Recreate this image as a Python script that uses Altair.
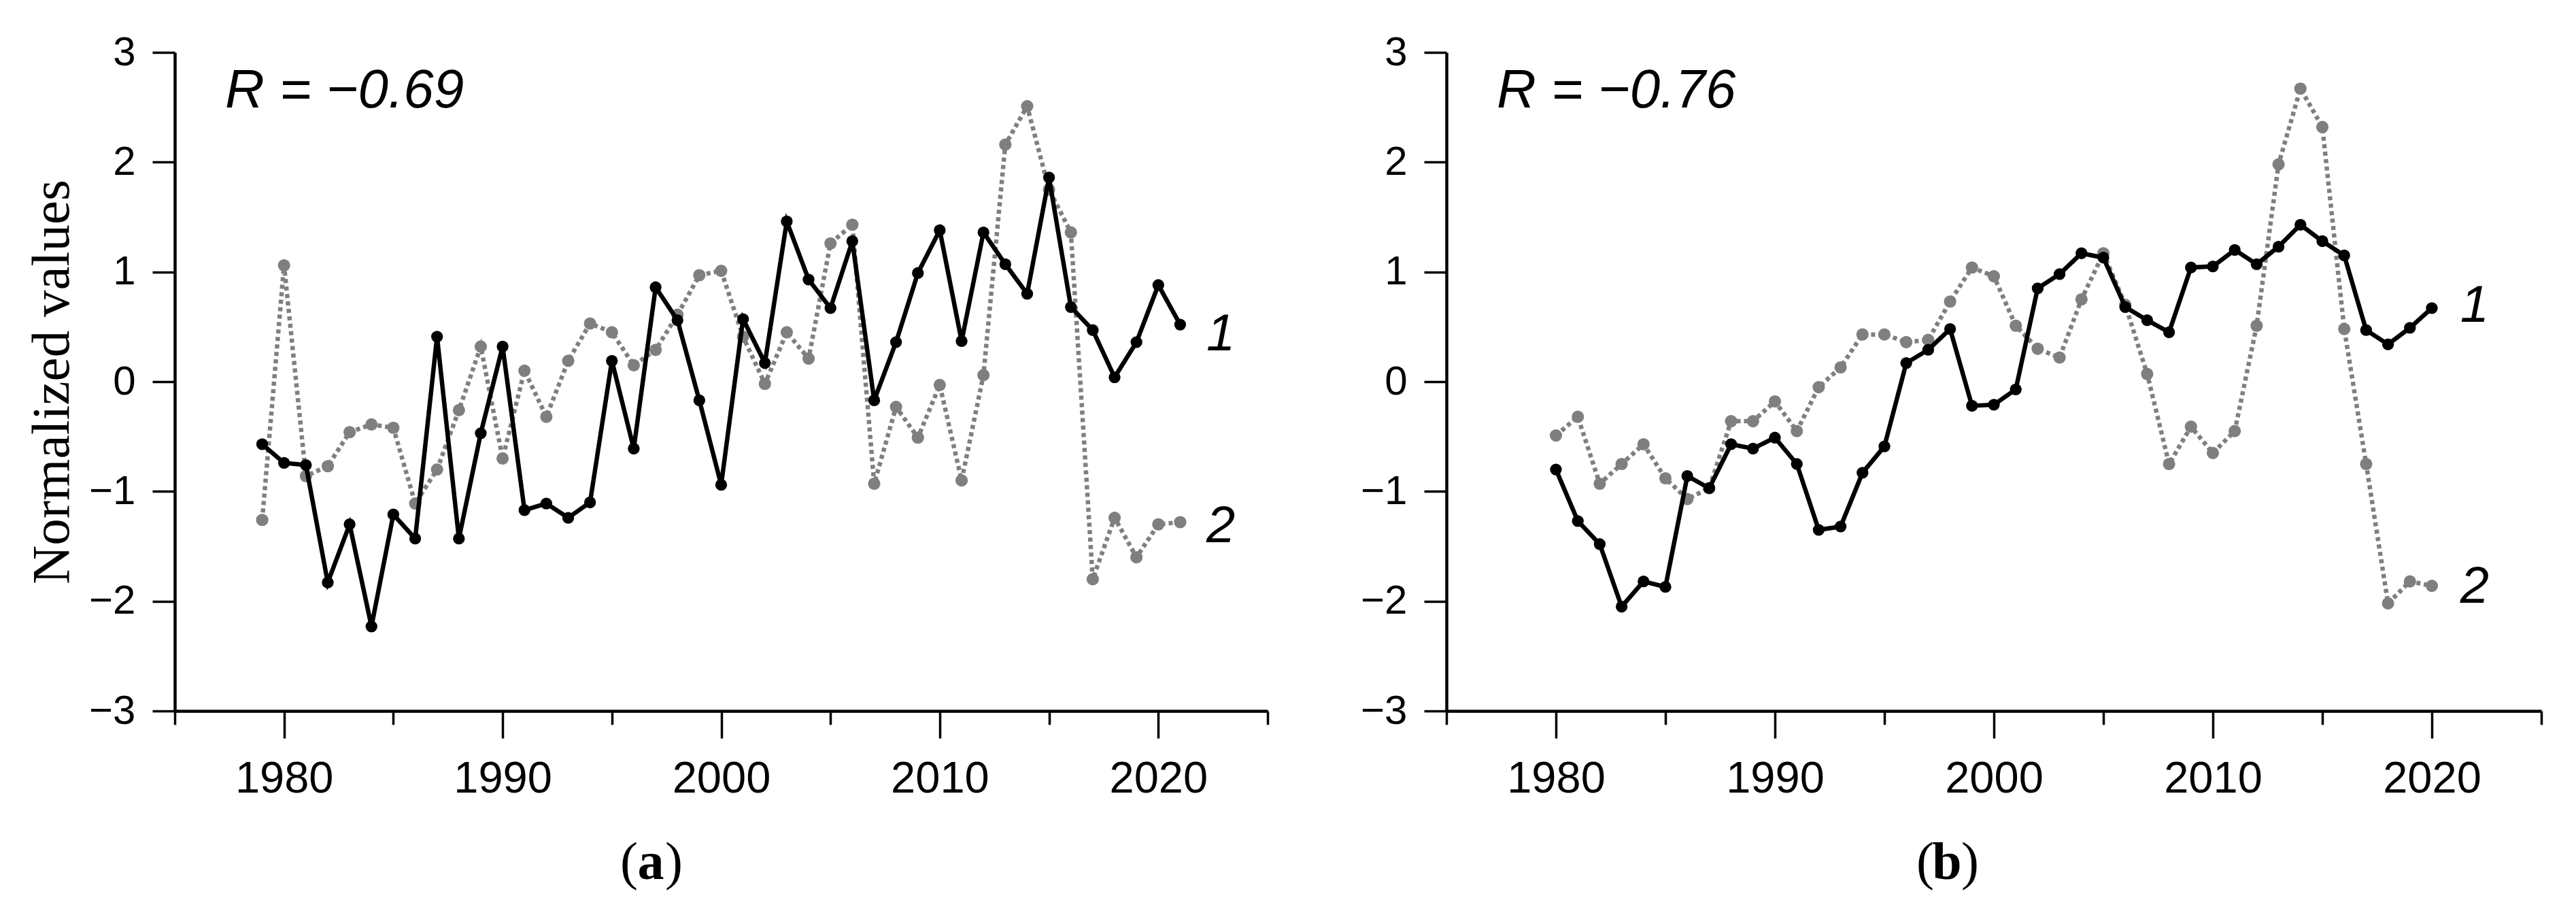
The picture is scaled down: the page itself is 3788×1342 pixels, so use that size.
import altair as alt
import pandas as pd

# ---------------- data ----------------
years_a = list(range(1979, 2022))
s1_a = [-0.57, -0.74, -0.76, -1.83, -1.30, -2.23, -1.21, -1.43, 0.41, -1.43,
        -0.47, 0.32, -1.17, -1.11, -1.24, -1.10, 0.19, -0.61, 0.86, 0.56,
        -0.17, -0.94, 0.57, 0.17, 1.46, 0.93, 0.67, 1.28, -0.17, 0.36,
        0.99, 1.38, 0.37, 1.36, 1.07, 0.80, 1.86, 0.68, 0.47, 0.04,
        0.36, 0.88, 0.52]
s2_a = [-1.26, 1.06, -0.86, -0.77, -0.46, -0.39, -0.42, -1.11, -0.80, -0.26,
        0.32, -0.70, 0.10, -0.32, 0.19, 0.53, 0.45, 0.15, 0.29, 0.61,
        0.97, 1.01, 0.41, -0.02, 0.45, 0.21, 1.26, 1.43, -0.93, -0.23,
        -0.51, -0.03, -0.90, 0.06, 2.16, 2.51, 1.75, 1.36, -1.80, -1.24,
        -1.60, -1.30, -1.28]

years_b = list(range(1980, 2021))
s1_b = [-0.80, -1.27, -1.48, -2.05, -1.82, -1.87, -0.86, -0.97, -0.57, -0.61,
        -0.51, -0.75, -1.35, -1.32, -0.83, -0.59, 0.17, 0.29, 0.48, -0.22,
        -0.21, -0.07, 0.85, 0.98, 1.17, 1.13, 0.68, 0.56, 0.45, 1.04,
        1.05, 1.20, 1.07, 1.23, 1.43, 1.28, 1.15, 0.47, 0.34, 0.49,
        0.67]
s2_b = [-0.49, -0.32, -0.93, -0.75, -0.57, -0.88, -1.07, -0.97, -0.36, -0.36,
        -0.18, -0.45, -0.05, 0.13, 0.43, 0.43, 0.36, 0.38, 0.73, 1.04,
        0.96, 0.51, 0.30, 0.22, 0.75, 1.17, 0.70, 0.07, -0.75, -0.41,
        -0.65, -0.45, 0.51, 1.98, 2.67, 2.32, 0.48, -0.75, -2.02, -1.82,
        -1.86]

r_texts = ["R = \u22120.69", "R = \u22120.76"]
captions = ["a", "b"]
x_ticks = list(range(1975, 2026, 5))
y_ticks = [-3, -2, -1, 0, 1, 2, 3]

# end-of-line labels: (year, value) for "1" and "2"
end_a = {"year": [2022.2, 2022.2], "value": [0.43, -1.32], "label": ["1", "2"]}
end_b = {"year": [2021.3, 2021.3], "value": [0.69, -1.87], "label": ["1", "2"]}

SANS = "Liberation Sans"
SERIF = "Liberation Serif"
H = 968


def panel(years, s1, s2, rtext, ends, letter, width, cap_x, ytitle):
    d1 = pd.DataFrame({"year": years, "value": s1})
    d2 = pd.DataFrame({"year": years, "value": s2})
    xaxis = alt.Axis(
        values=x_ticks, format="d",
        labelExpr="datum.value % 10 == 0 ? datum.label : ''",
        tickSize={"condition": {"test": "datum.value % 10 == 0", "value": 40}, "value": 20},
        tickWidth=3.5, tickColor="black", domainColor="black", domainWidth=4.5,
        labelFont=SANS, labelFontSize=65, labelColor="black", labelPadding=28,
        labelOverlap=False, labelFlush=False, grid=False, title=None,
    )
    yaxis_kw = dict(
        values=y_ticks, tickSize=33, tickWidth=3.5, tickColor="black",
        domainColor="black", domainWidth=4.5, labelFont=SANS, labelFontSize=60,
        labelColor="black", labelPadding=25, grid=False, labelOverlap=False,
        labelFlush=False,
    )
    if ytitle:
        yaxis = alt.Axis(title=ytitle, titleFont=SERIF, titleFontSize=79,
                         titleFontWeight="normal", titleColor="black",
                         titleX=-181, titleY=H / 2, titleAngle=270,
                         titleAlign="center", titleBaseline="middle", **yaxis_kw)
    else:
        yaxis = alt.Axis(title=None, **yaxis_kw)
    X = alt.X("year:Q", scale=alt.Scale(domain=[1975, 2025], nice=False, zero=False), axis=xaxis)
    Y = alt.Y("value:Q", scale=alt.Scale(domain=[-3, 3], nice=False, zero=False), axis=yaxis)

    gray = "#7f7f7f"
    l2 = alt.Chart(d2).mark_line(color=gray, strokeWidth=6.5, strokeDash=[6, 5]).encode(x=X, y=Y)
    p2 = alt.Chart(d2).mark_circle(color=gray, size=330, opacity=1).encode(x=X, y=Y)
    l1 = alt.Chart(d1).mark_line(color="black", strokeWidth=6.5).encode(x=X, y=Y)
    p1 = alt.Chart(d1).mark_circle(color="black", size=300, opacity=1).encode(x=X, y=Y)

    rt = alt.Chart(pd.DataFrame({"year": [1977.3], "value": [2.5], "t": [rtext]})).mark_text(
        font=SANS, fontSize=80, fontStyle="italic", align="left", baseline="alphabetic",
        color="black").encode(x=X, y=Y, text="t:N")
    et = alt.Chart(pd.DataFrame(ends)).mark_text(
        font=SANS, fontSize=76, fontStyle="italic", align="left", baseline="middle",
        color="black").encode(x=X, y=Y, text="label:N")

    cap_y = 1215
    c_open = alt.Chart(pd.DataFrame({"t": ["("]})).mark_text(
        font=SERIF, fontSize=78, align="right", baseline="alphabetic", color="black"
    ).encode(x=alt.value(cap_x - 19), y=alt.value(cap_y), text="t:N")
    c_mid = alt.Chart(pd.DataFrame({"t": [letter]})).mark_text(
        font=SERIF, fontSize=78, fontWeight="bold", align="center", baseline="alphabetic",
        color="black").encode(x=alt.value(cap_x), y=alt.value(cap_y), text="t:N")
    c_close = alt.Chart(pd.DataFrame({"t": [")"]})).mark_text(
        font=SERIF, fontSize=78, align="left", baseline="alphabetic", color="black"
    ).encode(x=alt.value(cap_x + 21), y=alt.value(cap_y), text="t:N")

    return alt.layer(l2, p2, l1, p1, rt, et, c_open, c_mid, c_close).properties(
        width=width, height=H)


pa = panel(years_a, s1_a, s2_a, r_texts[0], end_a, captions[0], 1607, 700, "Normalized values")
pb = panel(years_b, s1_b, s2_b, r_texts[1], end_b, captions[1], 1610, 736, None)

chart = alt.hconcat(pa, pb, spacing=134).properties(
    padding={"left": 29, "top": 39, "right": 5, "bottom": 5},
    background="white",
).configure_view(stroke=None)

chart.save("out.html", embed_options={"renderer": "svg", "actions": False})
